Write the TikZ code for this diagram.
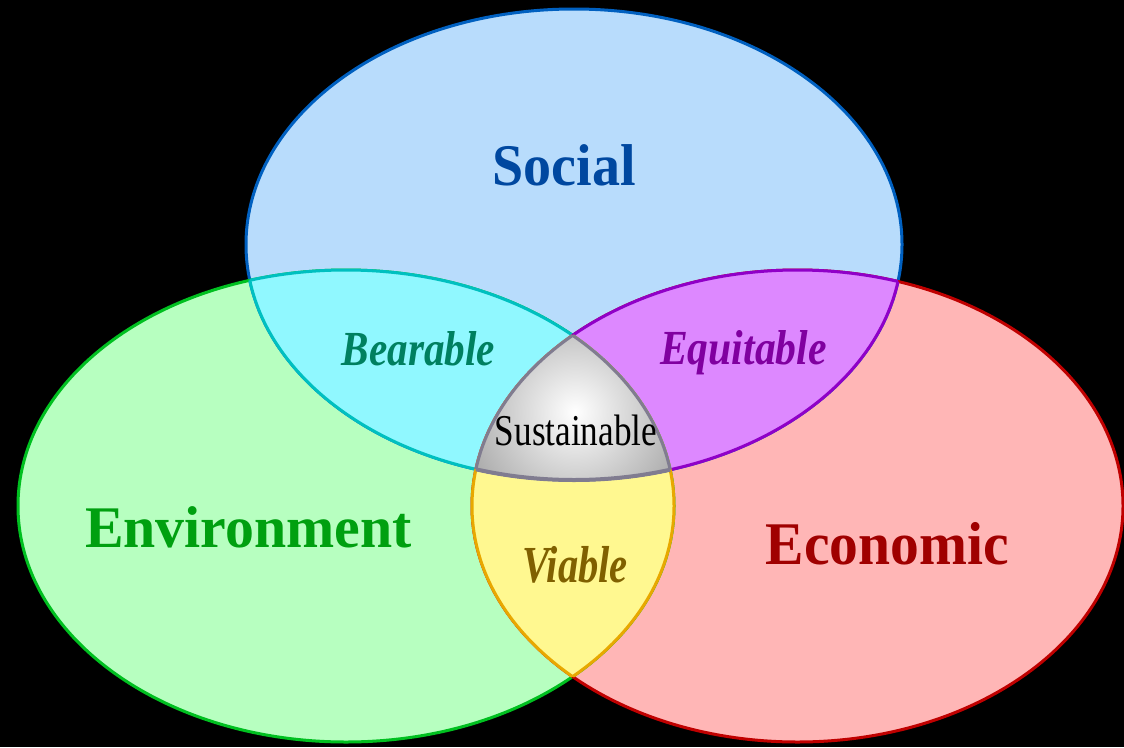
\documentclass[tikz,border=0pt]{standalone}
\usepackage{fontspec}
\setmainfont{Liberation Serif}
\usepackage{graphicx}
\definecolor{socfill}{RGB}{184,220,252}
\definecolor{socline}{RGB}{0,96,192}
\definecolor{envfill}{RGB}{183,255,192}
\definecolor{envline}{RGB}{0,192,32}
\definecolor{ecofill}{RGB}{255,182,182}
\definecolor{ecoline}{RGB}{192,0,0}
\definecolor{bearfill}{RGB}{144,248,255}
\definecolor{bearline}{RGB}{0,192,192}
\definecolor{eqfill}{RGB}{221,136,255}
\definecolor{eqline}{RGB}{144,0,200}
\definecolor{viafill}{RGB}{255,248,144}
\definecolor{vialine}{RGB}{232,168,0}
\definecolor{susline}{RGB}{128,124,144}
\definecolor{soctext}{RGB}{0,72,160}
\definecolor{envtext}{RGB}{0,160,16}
\definecolor{ecotext}{RGB}{160,0,0}
\definecolor{beartext}{RGB}{0,128,96}
\definecolor{eqtext}{RGB}{128,0,160}
\definecolor{viatext}{RGB}{128,96,0}
\def\soc{(574,244.5) ellipse [x radius=328pt, y radius=235.5pt]}
\def\env{(346,506) ellipse [x radius=328pt, y radius=236pt]}
\def\eco{(797.5,506) ellipse [x radius=325.5pt, y radius=236pt]}
\newcommand{\lbl}[3]{\fontsize{#1}{#1}\selectfont\scalebox{#2}[1]{#3}}
\begin{document}
\begin{tikzpicture}[x=1pt,y=-1pt,line width=3pt,
  lab/.style={anchor=base,inner sep=0pt}]
\useasboundingbox (0,0) rectangle (1124,747);
\fill[black] (0,0) rectangle (1124,747);
% base ellipses
\fill[socfill] \soc;
\fill[envfill] \env;
\fill[ecofill] \eco;
\draw[socline] \soc;
\draw[envline] \env;
\draw[ecoline] \eco;
% pairwise fills
\begin{scope}\clip \env; \fill[bearfill] \soc; \end{scope}
\begin{scope}\clip \eco; \fill[eqfill] \soc; \end{scope}
\begin{scope}\clip \env; \fill[viafill] \eco; \end{scope}
% pairwise strokes
\begin{scope}\clip \env; \draw[bearline] \soc; \end{scope}
\begin{scope}\clip \soc; \draw[bearline] \env; \end{scope}
\begin{scope}\clip \eco; \draw[eqline] \soc; \end{scope}
\begin{scope}\clip \soc; \draw[eqline] \eco; \end{scope}
\begin{scope}\clip \env; \draw[vialine] \eco; \end{scope}
\begin{scope}\clip \eco; \draw[vialine] \env; \end{scope}
% triple
\begin{scope}\clip \env; \clip \eco; \clip \soc;
  \shade[inner color=white, outer color=gray!72] (575,412) circle (125pt);
\end{scope}
\begin{scope}\clip \env; \clip \eco; \draw[susline,line width=4pt] \soc; \end{scope}
\begin{scope}\clip \soc; \clip \eco; \draw[susline] \env; \end{scope}
\begin{scope}\clip \soc; \clip \env; \draw[susline] \eco; \end{scope}
% labels
\node[lab,text=soctext] (social) at (564,185) {\lbl{59}{0.95}{\bfseries Social}};
\node[lab,text=envtext] (environment) at (248.5,547) {\lbl{59}{0.98}{\bfseries Environment}};
\node[lab,text=ecotext] (economic) at (887.5,564) {\lbl{60.6}{0.95}{\bfseries Economic}};
\node[lab,text=beartext] (bearable) at (418.5,365) {\lbl{49}{0.84}{\bfseries\itshape Bearable}};
\node[lab,text=eqtext] (equitable) at (743.5,364) {\lbl{49}{0.85}{\bfseries\itshape Equitable}};
\node[lab,text=viatext] (viable) at (575,582) {\lbl{52}{0.78}{\bfseries\itshape Viable}};
\node[lab,text=black] (sustainable) at (576,445) {\lbl{44}{0.80}{Sustainable}};
\end{tikzpicture}
\end{document}
